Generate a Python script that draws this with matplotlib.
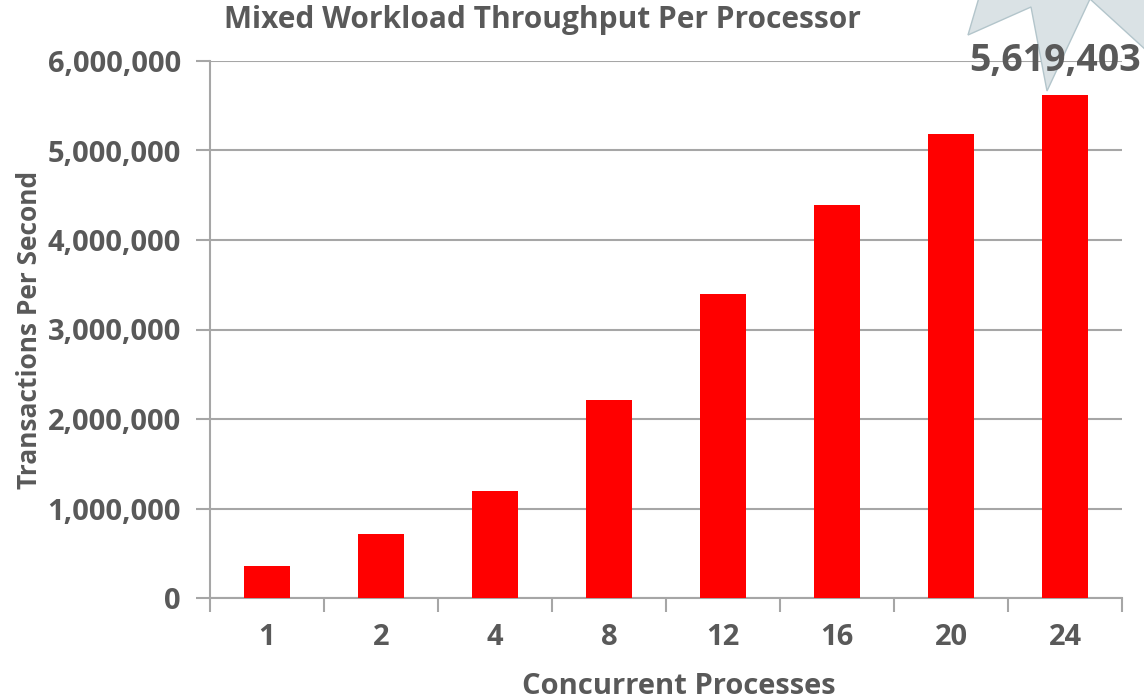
import matplotlib.pyplot as plt
from matplotlib.patches import Polygon
from matplotlib.ticker import FuncFormatter

processes = ["1", "2", "4", "8", "12", "16", "20", "24"]
tps = [360000, 715000, 1195000, 2210000, 3400000, 4390000, 5180000, 5619403]

TEXT = "#595959"
GRID = "#a6a6a6"
BAR = "#ff0000"

plt.rcParams["font.family"] = ["Open Sans", "DejaVu Sans"]
plt.rcParams["font.weight"] = "bold"
plt.rcParams["axes.labelweight"] = "bold"


def main():
    fig = plt.figure(figsize=(11.44, 6.99), dpi=100)
    ax = fig.add_axes([210 / 1144, 101 / 699, 912 / 1144, 537 / 699])

    x = list(range(len(processes)))
    ax.bar(x, tps, width=0.41, color=BAR, zorder=3)

    ax.set_xlim(-0.5, len(processes) - 0.5)
    ax.set_ylim(0, 6000000)
    ax.set_yticks(range(0, 6000001, 1000000))
    ax.yaxis.set_major_formatter(FuncFormatter(lambda v, p: f"{int(v):,}"))
    ax.yaxis.grid(True, color=GRID, linewidth=1.5, zorder=0)
    ax.tick_params(axis="y", length=10, width=1.5, color=GRID,
                   labelsize=21, labelcolor=TEXT, pad=11)

    # category boundaries get the tick marks, centres get the labels
    ax.set_xticks([i - 0.5 for i in range(len(processes) + 1)])
    ax.set_xticklabels([])
    ax.set_xticks(x, minor=True)
    ax.set_xticklabels(processes, minor=True)
    ax.tick_params(axis="x", which="major", length=10, width=1.5, color=GRID)
    ax.tick_params(axis="x", which="minor", length=0, labelsize=21,
                   labelcolor=TEXT, pad=18)

    for side in ["top", "right"]:
        ax.spines[side].set_visible(False)
    for side in ["left", "bottom"]:
        ax.spines[side].set_color(GRID)
        ax.spines[side].set_linewidth(1.5)

    ax.set_xlabel("Concurrent Processes", fontsize=21, color=TEXT)
    ax.xaxis.set_label_coords(0.514, -0.138)
    ax.set_ylabel("Transactions Per Second", fontsize=19, color=TEXT)
    ax.yaxis.set_label_coords(-0.183, 0.5)
    fig.text(0.474, 1 - 20 / 699, "Mixed Workload Throughput Per Processor",
             fontsize=21.5, color=TEXT, ha="center", va="center", weight="bold")

    # starburst callout behind the peak value
    star = [(990, -40), (968, 35), (1031, 7), (1047, 91), (1090, -1),
            (1170, 72), (1170, -40)]
    star = [(px / 1144, 1 - py / 699) for px, py in star]
    ax.add_patch(Polygon(star, closed=True, transform=fig.transFigure,
                         facecolor="#dae2e5", edgecolor="#b3c5cb",
                         linewidth=1, clip_on=False, zorder=4))

    last = len(tps) - 1
    ax.annotate(f"{tps[last]:,}", xy=(x[last], tps[last]),
                xytext=(-7, 11), textcoords="offset points",
                ha="center", va="bottom", fontsize=27, color=TEXT,
                weight="bold", annotation_clip=False, zorder=5)

    fig.savefig("out.png", dpi=100)


if __name__ == "__main__":
    main()
